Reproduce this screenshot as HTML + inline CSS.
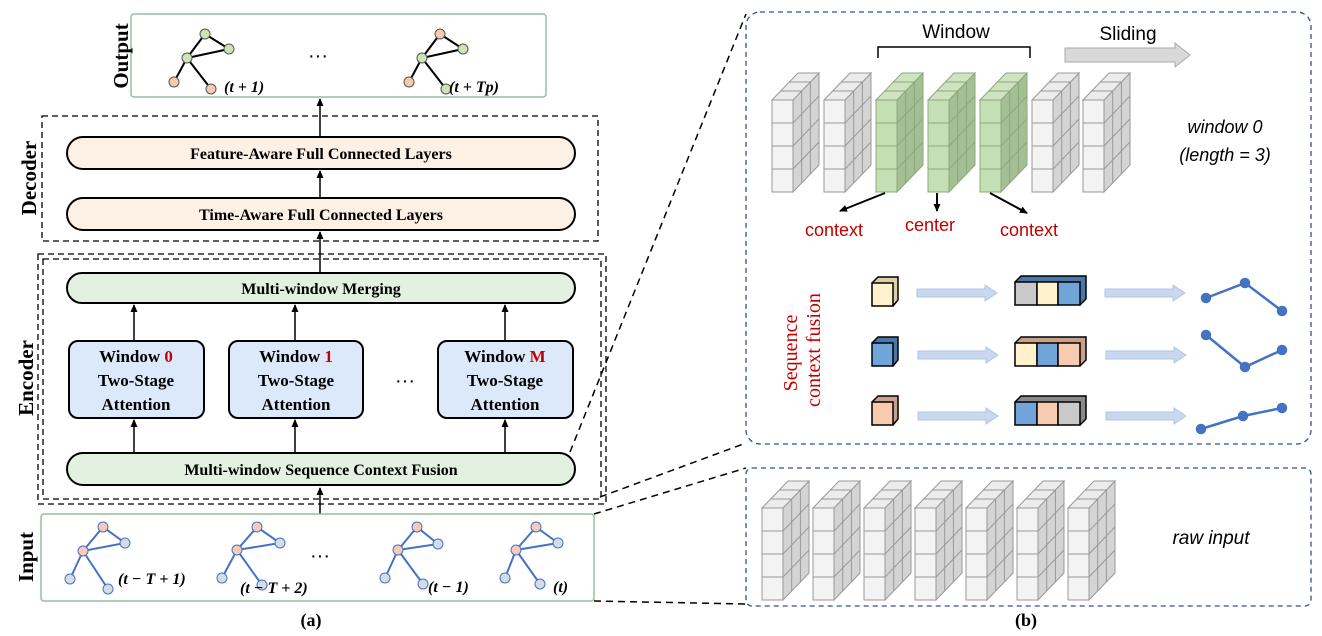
<!DOCTYPE html>
<html><head><meta charset="utf-8"><style>
body{margin:0;background:#fff}
svg{display:block}
.s{font-family:"Liberation Serif",serif;font-weight:bold}
.r{font-family:"Liberation Sans",sans-serif}
</style></head><body>
<svg width="1322" height="636" viewBox="0 0 1322 636" xmlns="http://www.w3.org/2000/svg">
<defs>
<marker id="ah" markerWidth="8" markerHeight="8" refX="7" refY="4" orient="auto" markerUnits="userSpaceOnUse"><path d="M0,0.5 L8,4 L0,7.5z" fill="#000"/></marker>
<g id="colw">
 <path d="M21,0 L47,-27 L47,65 L21,92z" fill="#d4d4d4" stroke="#999"/>
 <path d="M0,0 L26,-27 L47,-27 L21,0z" fill="#ececec" stroke="#999"/>
 <path d="M29.7,-9 V83 M38.4,-18 V74 M21,23 L47,-4 M21,46 L47,19 M21,69 L47,42 M8.7,-9 H29.7 M17.4,-18 H38.4" stroke="#999" fill="none"/>
 <rect x="0" y="0" width="21" height="92" fill="#f3f3f3" stroke="#999"/>
 <path d="M0,23 H21 M0,46 H21 M0,69 H21" stroke="#999"/>
</g>
<g id="colg">
 <path d="M21,0 L47,-27 L47,65 L21,92z" fill="#a3bf93" stroke="#8aa87c"/>
 <path d="M0,0 L26,-27 L47,-27 L21,0z" fill="#cfe3c0" stroke="#8aa87c"/>
 <path d="M29.7,-9 V83 M38.4,-18 V74 M21,23 L47,-4 M21,46 L47,19 M21,69 L47,42 M8.7,-9 H29.7 M17.4,-18 H38.4" stroke="#8aa87c" fill="none"/>
 <rect x="0" y="0" width="21" height="92" fill="#c5dfb4" stroke="#8aa87c"/>
 <path d="M0,23 H21 M0,46 H21 M0,69 H21" stroke="#8aa87c"/>
</g>
<path id="barr" d="M0,4 H68 V0 L80,8 L68,16 V12 H0z" fill="#c9d8ee" stroke="#b0c6e6"/>
</defs>

<!-- Output -->
<rect x="131" y="14" width="415" height="83" rx="3" fill="#fff" stroke="#93c09c" stroke-width="1.5"/>
<text class="s" font-size="21" transform="translate(128,56) rotate(-90)" text-anchor="middle">Output</text>
<g stroke="#000" stroke-width="2">
<line x1="205" y1="34" x2="187" y2="58"/><line x1="205" y1="34" x2="229" y2="49"/><line x1="187" y1="58" x2="229" y2="49"/><line x1="187" y1="58" x2="174" y2="82"/><line x1="187" y1="58" x2="211" y2="89"/>
<line x1="440" y1="34" x2="422" y2="58"/><line x1="440" y1="34" x2="463" y2="49"/><line x1="422" y1="58" x2="463" y2="49"/><line x1="422" y1="58" x2="409" y2="82"/><line x1="422" y1="58" x2="446" y2="89"/>
</g>
<g stroke="#555" stroke-width="1">
<circle cx="205" cy="34" r="5" fill="#cfe2b8"/><circle cx="229" cy="49" r="5" fill="#cfe2b8"/><circle cx="187" cy="58" r="5" fill="#cfe2b8"/><circle cx="174" cy="82" r="5" fill="#f7cbb0"/><circle cx="211" cy="89" r="5" fill="#f7cbb0"/>
<circle cx="440" cy="34" r="5" fill="#f7cbb0"/><circle cx="463" cy="49" r="5" fill="#cfe2b8"/><circle cx="422" cy="58" r="5" fill="#cfe2b8"/><circle cx="409" cy="82" r="5" fill="#f7cbb0"/><circle cx="446" cy="89" r="5" fill="#cfe2b8"/>
</g>
<text class="s" font-size="16" x="224" y="92" font-style="italic">(t + 1)</text>
<text class="s" font-size="16" x="449" y="92" font-style="italic">(t + Tp)</text>
<text class="r" font-size="20" x="318" y="62" text-anchor="middle">···</text>

<!-- Decoder -->
<rect x="42" y="116" width="556" height="125" fill="none" stroke="#000" stroke-dasharray="6,4" stroke-width="1.3"/>
<text class="s" font-size="21" transform="translate(36,178) rotate(-90)" text-anchor="middle">Decoder</text>
<rect x="67" y="137" width="508" height="32" rx="16" fill="#fdf1e6" stroke="#000" stroke-width="2"/>
<text class="s" font-size="16" x="321" y="159" text-anchor="middle">Feature-Aware Full Connected Layers</text>
<rect x="67" y="198" width="508" height="32" rx="16" fill="#fdf1e6" stroke="#000" stroke-width="2"/>
<text class="s" font-size="16" x="321" y="220" text-anchor="middle">Time-Aware Full Connected Layers</text>

<!-- Encoder -->
<rect x="38" y="254" width="568" height="250" fill="none" stroke="#000" stroke-dasharray="6,4" stroke-width="1.3"/>
<rect x="43" y="259" width="558" height="240" fill="none" stroke="#000" stroke-dasharray="6,4" stroke-width="1.3"/>
<text class="s" font-size="21" transform="translate(33,378) rotate(-90)" text-anchor="middle">Encoder</text>
<rect x="67" y="273" width="508" height="30" rx="15" fill="#e3f2e0" stroke="#000" stroke-width="2"/>
<text class="s" font-size="16" x="321" y="294" text-anchor="middle">Multi-window Merging</text>
<g stroke="#000" stroke-width="2" fill="#dce9fb">
<rect x="69" y="341" width="135" height="77" rx="9"/><rect x="229" y="341" width="134" height="77" rx="9"/><rect x="438" y="341" width="135" height="77" rx="9"/>
</g>
<g class="s" font-size="17" text-anchor="middle">
<text x="136" y="362">Window <tspan fill="#c00000">0</tspan></text><text x="136" y="386">Two-Stage</text><text x="136" y="410">Attention</text>
<text x="296" y="362">Window <tspan fill="#c00000">1</tspan></text><text x="296" y="386">Two-Stage</text><text x="296" y="410">Attention</text>
<text x="505" y="362">Window <tspan fill="#c00000">M</tspan></text><text x="505" y="386">Two-Stage</text><text x="505" y="410">Attention</text>
</g>
<text class="r" font-size="20" x="405" y="387" text-anchor="middle">···</text>
<rect x="67" y="453" width="508" height="32" rx="16" fill="#e3f2e0" stroke="#000" stroke-width="2"/>
<text class="s" font-size="16" x="321" y="475" text-anchor="middle">Multi-window Sequence Context Fusion</text>

<!-- arrows -->
<g stroke="#000" stroke-width="1.5" marker-end="url(#ah)">
<line x1="320" y1="514" x2="320" y2="488"/>
<line x1="134" y1="453" x2="134" y2="420"/><line x1="295" y1="453" x2="295" y2="420"/><line x1="505" y1="453" x2="505" y2="420"/>
<line x1="134" y1="341" x2="134" y2="305"/><line x1="295" y1="341" x2="295" y2="305"/><line x1="505" y1="341" x2="505" y2="305"/>
<line x1="320" y1="273" x2="320" y2="232"/>
<line x1="320" y1="198" x2="320" y2="171"/>
<line x1="320" y1="137" x2="320" y2="99"/>
</g>

<!-- Input -->
<rect x="41" y="514" width="553" height="87" rx="3" fill="#fff" stroke="#93c09c" stroke-width="1.5"/>
<text class="s" font-size="21" transform="translate(33,557) rotate(-90)" text-anchor="middle">Input</text>
<g stroke="#4472c4" stroke-width="2">
<path d="M103,527 L83,551 L125,543 Z M83,551 L70,579 M83,551 L108,589" fill="none"/>
<path d="M257,527 L237,550 L280,543 Z M237,550 L222,578 M237,550 L262,585" fill="none"/>
<path d="M417,527 L398,550 L438,544 Z M398,550 L385,578 M398,550 L423,584" fill="none"/>
<path d="M536,527 L516,550 L558,543 Z M516,550 L505,578 M516,550 L540,584" fill="none"/>
</g>
<g stroke="#4472c4" stroke-width="1">
<circle cx="103" cy="527" r="5" fill="#f8cbb8"/><circle cx="125" cy="543" r="5" fill="#d6dce5"/><circle cx="83" cy="551" r="5" fill="#f8cbb8"/><circle cx="70" cy="579" r="5" fill="#d6dce5"/><circle cx="108" cy="589" r="5" fill="#d6dce5"/>
<circle cx="257" cy="527" r="5" fill="#f8cbb8"/><circle cx="280" cy="543" r="5" fill="#d6dce5"/><circle cx="237" cy="550" r="5" fill="#f8cbb8"/><circle cx="222" cy="578" r="5" fill="#d6dce5"/><circle cx="262" cy="585" r="5" fill="#d6dce5"/>
<circle cx="417" cy="527" r="5" fill="#f8cbb8"/><circle cx="438" cy="544" r="5" fill="#d6dce5"/><circle cx="398" cy="550" r="5" fill="#f8cbb8"/><circle cx="385" cy="578" r="5" fill="#d6dce5"/><circle cx="423" cy="584" r="5" fill="#d6dce5"/>
<circle cx="536" cy="527" r="5" fill="#f8cbb8"/><circle cx="558" cy="543" r="5" fill="#d6dce5"/><circle cx="516" cy="550" r="5" fill="#f8cbb8"/><circle cx="505" cy="578" r="5" fill="#d6dce5"/><circle cx="540" cy="584" r="5" fill="#d6dce5"/>
</g>
<g class="s" font-size="16" font-style="italic">
<text x="118" y="584">(t − T + 1)</text><text x="240" y="593">(t − T + 2)</text><text x="428" y="592">(t − 1)</text><text x="553" y="592">(t)</text>
</g>
<text class="r" font-size="20" x="320" y="562" text-anchor="middle">···</text>
<text class="s" font-size="18" x="311" y="626" text-anchor="middle">(a)</text>
<text class="s" font-size="18" x="1026" y="626" text-anchor="middle">(b)</text>

<!-- dashed connectors -->
<g stroke="#000" stroke-width="1.5" stroke-dasharray="7,5">
<line x1="570" y1="452" x2="746" y2="14"/>
<line x1="600" y1="497" x2="746" y2="443"/>
<line x1="594" y1="514" x2="746" y2="468"/>
<line x1="594" y1="601" x2="746" y2="604"/>
</g>

<!-- right panel -->
<rect x="746" y="12" width="565" height="432" rx="14" fill="none" stroke="#2f528f" stroke-width="1.3" stroke-dasharray="5,4"/>
<rect x="746" y="468" width="565" height="138" rx="6" fill="none" stroke="#2f528f" stroke-width="1.3" stroke-dasharray="5,4"/>
<text class="r" font-size="19" x="956" y="38" text-anchor="middle">Window</text>
<path d="M878,58 V47 H1030 V58" fill="none" stroke="#000" stroke-width="1.5"/>
<path d="M1065,48 H1175 V43 L1190,55 L1175,67 V62 H1065z" fill="#d9d9d9" stroke="#aaa"/>
<text class="r" font-size="19" x="1128" y="40" text-anchor="middle">Sliding</text>
<use href="#colw" x="772" y="100"/><use href="#colw" x="824" y="100"/>
<use href="#colg" x="876" y="100"/><use href="#colg" x="928" y="100"/><use href="#colg" x="980" y="100"/>
<use href="#colw" x="1032" y="100"/><use href="#colw" x="1083" y="100"/>
<text class="r" font-size="18" x="1225" y="133" text-anchor="middle" font-style="italic">window 0</text>
<text class="r" font-size="18" x="1225" y="161" text-anchor="middle" font-style="italic">(length = 3)</text>
<g stroke="#000" stroke-width="2" marker-end="url(#ah)">
<line x1="885" y1="193" x2="840" y2="211"/><line x1="937" y1="193" x2="937" y2="211"/><line x1="990" y1="193" x2="1027" y2="213"/>
</g>
<g class="r" font-size="18" fill="#c00000" text-anchor="middle">
<text x="834" y="236">context</text><text x="930" y="231">center</text><text x="1029" y="236">context</text>
</g>
<g font-family="Liberation Serif, serif" font-size="20" fill="#c00000" text-anchor="middle">
<text transform="translate(797,353) rotate(-90)">Sequence</text>
<text transform="translate(820,350) rotate(-90)">context fusion</text>
</g>

<!-- small cubes -->
<g stroke="#000" stroke-width="1.5">
<path d="M872,283 L878,277 H898 V300 L893,306" fill="#d9cfa8"/><rect x="872" y="283" width="21" height="23" fill="#fff2cc"/>
<path d="M1015,282 L1021,276 H1086 V299 L1080,305" fill="#4b77a8"/>
<rect x="1015" y="282" width="22" height="23" fill="#c9c9c9"/><rect x="1037" y="282" width="21" height="23" fill="#fff2cc"/><rect x="1058" y="282" width="22" height="23" fill="#71a5d9"/>
<path d="M872,343 L878,337 H898 V360 L893,366" fill="#4b77a8"/><rect x="872" y="343" width="21" height="23" fill="#71a5d9"/>
<path d="M1015,343 L1021,337 H1086 V360 L1080,366" fill="#c9a08a"/>
<rect x="1015" y="343" width="22" height="23" fill="#fff2cc"/><rect x="1037" y="343" width="21" height="23" fill="#71a5d9"/><rect x="1058" y="343" width="22" height="23" fill="#f7cbb0"/>
<path d="M872,402 L878,396 H898 V419 L893,425" fill="#c9a08a"/><rect x="872" y="402" width="21" height="23" fill="#f7cbb0"/>
<path d="M1015,402 L1021,396 H1086 V419 L1080,425" fill="#8a8a8a"/>
<rect x="1015" y="402" width="22" height="23" fill="#71a5d9"/><rect x="1037" y="402" width="21" height="23" fill="#f7cbb0"/><rect x="1058" y="402" width="22" height="23" fill="#c9c9c9"/>
</g>
<use href="#barr" x="917" y="285"/><use href="#barr" x="1105" y="285"/>
<use href="#barr" x="918" y="347"/><use href="#barr" x="1106" y="347"/>
<use href="#barr" x="918" y="408"/><use href="#barr" x="1106" y="408"/>
<g stroke="#4472c4" stroke-width="2.5" fill="#4472c4">
<polyline points="1206,298 1245,283 1282,311" fill="none"/><circle cx="1206" cy="298" r="4"/><circle cx="1245" cy="283" r="4"/><circle cx="1282" cy="311" r="4"/>
<polyline points="1206,335 1245,367 1282,350" fill="none"/><circle cx="1206" cy="335" r="4"/><circle cx="1245" cy="367" r="4"/><circle cx="1282" cy="350" r="4"/>
<polyline points="1201,429 1243,416 1282,408" fill="none"/><circle cx="1201" cy="429" r="4"/><circle cx="1243" cy="416" r="4"/><circle cx="1282" cy="408" r="4"/>
</g>

<!-- raw input -->
<use href="#colw" x="762" y="508"/><use href="#colw" x="813" y="508"/><use href="#colw" x="864" y="508"/><use href="#colw" x="915" y="508"/><use href="#colw" x="966" y="508"/><use href="#colw" x="1017" y="508"/><use href="#colw" x="1068" y="508"/>
<text class="r" font-size="19" x="1211" y="544" text-anchor="middle" font-style="italic">raw input</text>
</svg>
</body></html>
